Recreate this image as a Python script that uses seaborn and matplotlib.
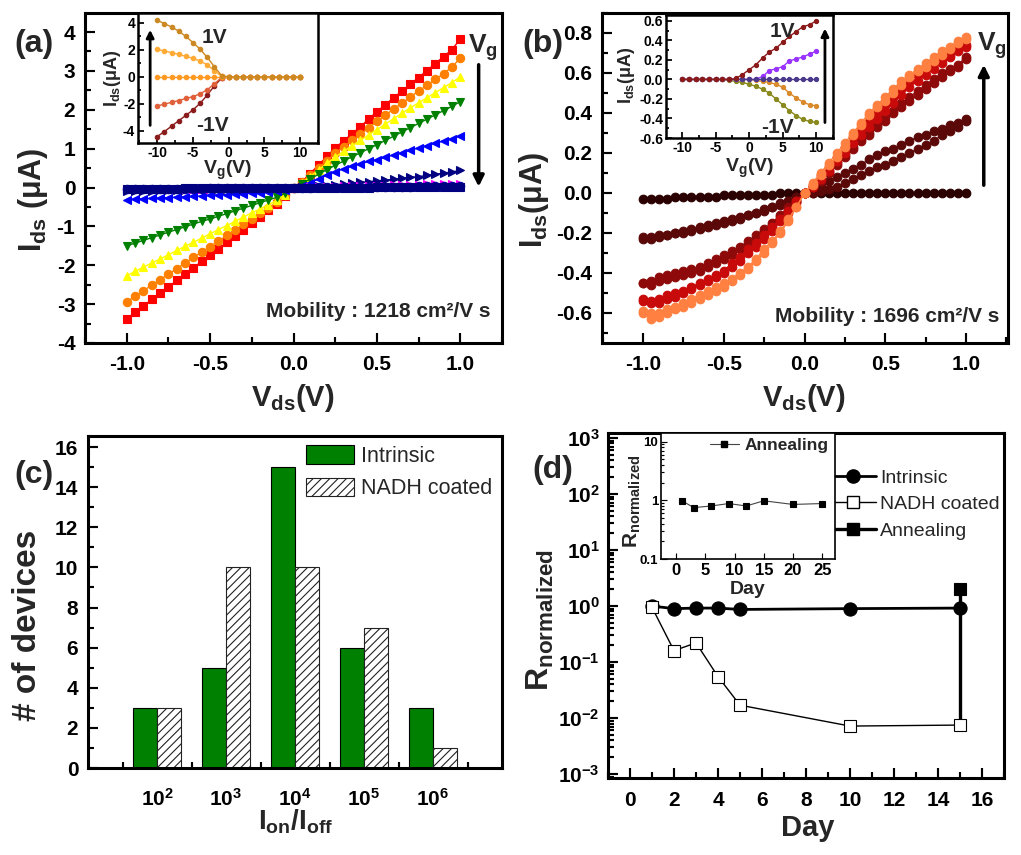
import matplotlib
matplotlib.use('Agg')
import matplotlib.pyplot as plt
import seaborn as sns
import pandas as pd
from matplotlib.ticker import MultipleLocator, FixedLocator, NullFormatter, FormatStrFormatter, LogLocator
from matplotlib.lines import Line2D
from matplotlib.patches import Patch

# ---------------- data ----------------
vds = [-1.0, -0.95, -0.9, -0.85, -0.8, -0.75, -0.7, -0.65, -0.6, -0.55, -0.5, -0.45, -0.4, -0.35,
       -0.3, -0.25, -0.2, -0.15, -0.1, -0.05, 0.0, 0.05, 0.1, 0.15, 0.2, 0.25, 0.3, 0.35, 0.4, 0.45,
       0.5, 0.55, 0.6, 0.65, 0.7, 0.75, 0.8, 0.85, 0.9, 0.95, 1.0]

# panel (a) : Ids (uA) vs Vds for several Vg
a_red = [-3.38, -3.21, -3.05, -2.88, -2.72, -2.56, -2.39, -2.23, -2.06, -1.90, -1.74, -1.57, -1.41, -1.25,
         -1.08, -0.92, -0.76, -0.59, -0.42, -0.22, 0.0, 0.15, 0.36, 0.58, 0.80, 1.02, 1.20, 1.38, 1.56, 1.76,
         1.95, 2.13, 2.31, 2.48, 2.66, 2.83, 3.01, 3.19, 3.37, 3.55, 3.82]
a_orange = [-2.94, -2.80, -2.66, -2.51, -2.37, -2.23, -2.09, -1.94, -1.80, -1.66, -1.52, -1.38, -1.23, -1.09,
            -0.95, -0.81, -0.66, -0.52, -0.38, -0.20, 0.0, 0.13, 0.31, 0.50, 0.69, 0.88, 1.05, 1.21, 1.37, 1.53,
            1.70, 1.86, 2.02, 2.17, 2.33, 2.48, 2.63, 2.78, 2.93, 3.10, 3.33]
a_yellow = [-2.27, -2.16, -2.05, -1.94, -1.84, -1.73, -1.62, -1.51, -1.41, -1.30, -1.19, -1.08, -0.98, -0.87,
            -0.76, -0.65, -0.55, -0.44, -0.33, -0.18, 0.0, 0.12, 0.28, 0.45, 0.62, 0.78, 0.93, 1.07, 1.21, 1.35,
            1.49, 1.63, 1.77, 1.91, 2.05, 2.18, 2.31, 2.44, 2.57, 2.70, 2.85]
a_green = [-1.50, -1.43, -1.36, -1.29, -1.22, -1.15, -1.08, -1.01, -0.94, -0.87, -0.81, -0.74, -0.67, -0.60,
           -0.53, -0.46, -0.39, -0.32, -0.25, -0.14, 0.0, 0.10, 0.22, 0.34, 0.46, 0.57, 0.68, 0.79, 0.89, 1.00,
           1.10, 1.21, 1.32, 1.43, 1.54, 1.65, 1.76, 1.87, 1.98, 2.09, 2.21]
a_blue = [-0.31, -0.30, -0.29, -0.28, -0.27, -0.26, -0.25, -0.24, -0.23, -0.22, -0.20, -0.19, -0.18, -0.17,
          -0.16, -0.14, -0.13, -0.11, -0.09, -0.06, 0.0, 0.04, 0.12, 0.22, 0.32, 0.41, 0.48, 0.55, 0.61, 0.67,
          0.72, 0.78, 0.84, 0.90, 0.96, 1.02, 1.08, 1.14, 1.20, 1.26, 1.33]
a_navy = [-0.09, -0.09, -0.08, -0.08, -0.07, -0.07, -0.06, -0.06, -0.05, -0.05, -0.05, -0.04, -0.04, -0.03,
          -0.03, -0.02, -0.02, -0.01, -0.01, -0.01, 0.0, 0.01, 0.02, 0.03, 0.05, 0.07, 0.09, 0.11, 0.13, 0.15,
          0.17, 0.19, 0.21, 0.24, 0.26, 0.28, 0.31, 0.34, 0.37, 0.40, 0.44]
a_magenta = [-0.05, -0.05, -0.05, -0.04, -0.04, -0.04, -0.04, -0.03, -0.03, -0.03, -0.03, -0.02, -0.02, -0.02,
             -0.02, -0.01, -0.01, -0.01, -0.01, 0.0, 0.0, 0.0, 0.01, 0.01, 0.02, 0.02, 0.03, 0.03, 0.04, 0.04,
             0.05, 0.05, 0.06, 0.06, 0.07, 0.07, 0.08, 0.08, 0.09, 0.09, 0.10]
a_navy_sq = [-0.03, -0.03, -0.03, -0.03, -0.03, -0.03, -0.03, -0.02, -0.02, -0.02, -0.02, -0.02, -0.02, -0.02,
             -0.02, -0.01, -0.01, -0.01, -0.01, 0.0, 0.0, 0.0, 0.0, 0.0, 0.0, 0.0, 0.0, 0.0, 0.0, 0.0,
             0.01, 0.01, 0.01, 0.01, 0.01, 0.01, 0.01, 0.01, 0.02, 0.02, 0.02]
a_dblue = [-0.04, -0.04, -0.04, -0.04, -0.03, -0.03, -0.03, -0.03, -0.03, -0.03, -0.02, -0.02, -0.02, -0.02,
           -0.02, -0.01, -0.01, -0.01, -0.01, 0.0, 0.0, 0.0, 0.0, 0.01, 0.01, 0.01, 0.01, 0.01, 0.01, 0.02,
           0.02, 0.02, 0.02, 0.02, 0.02, 0.03, 0.03, 0.03, 0.03, 0.03, 0.03]

# inset (a): Ids vs Vg for Vds = 1, 0.5, 0, -0.5, -1 V
vg = [-10, -9, -8, -7, -6, -5, -4, -3, -2, -1, 0, 1, 2, 3, 4, 5, 6, 7, 8, 9, 10]
ia_p1 = [4.2, 3.95, 3.7, 3.4, 3.0, 2.55, 2.05, 1.45, 0.75, 0.1, 0, 0, 0, 0, 0, 0, 0, 0, 0, 0, 0]
ia_p05 = [2.05, 1.92, 1.8, 1.67, 1.53, 1.38, 1.18, 0.9, 0.45, 0.05, 0, 0, 0, 0, 0, 0, 0, 0, 0, 0, 0]
ia_0 = [0, 0, 0, 0, 0, 0, 0, 0, 0, 0, 0, 0, 0, 0, 0, 0, 0, 0, 0, 0, 0]
ia_m05 = [-2.15, -2.02, -1.88, -1.75, -1.6, -1.46, -1.25, -0.95, -0.5, -0.05, 0, 0, 0, 0, 0, 0, 0, 0, 0, 0, 0]
ia_m1 = [-4.42, -4.05, -3.65, -3.25, -2.85, -2.45, -1.95, -1.35, -0.65, -0.1, 0, 0, 0, 0, 0, 0, 0, 0, 0, 0, 0]

# panel (b): forward / reverse sweeps
b_dark = [-0.03, -0.03, -0.03, -0.03, -0.02, -0.02, -0.02, -0.02, -0.02, -0.02, -0.01, -0.01, -0.01, -0.01,
          -0.01, -0.01, -0.01, 0.0, 0.0, 0.0, 0.0, 0.0, 0.0, 0.0, 0.0, 0.0, 0.0, 0.0, 0.0, 0.0,
          0.0, 0.0, 0.0, 0.0, 0.0, 0.0, 0.0, 0.0, 0.0, 0.0, 0.0]
b_maroon_f = [-0.22, -0.22, -0.21, -0.21, -0.20, -0.19, -0.18, -0.17, -0.16, -0.15, -0.14, -0.13, -0.12, -0.11,
              -0.10, -0.08, -0.07, -0.05, -0.04, -0.02, 0.0, 0.02, 0.04, 0.06, 0.08, 0.10, 0.12, 0.14, 0.17, 0.19,
              0.21, 0.22, 0.24, 0.26, 0.28, 0.29, 0.31, 0.32, 0.34, 0.35, 0.37]
b_maroon_r = [-0.23, -0.23, -0.22, -0.21, -0.20, -0.20, -0.19, -0.18, -0.17, -0.16, -0.15, -0.14, -0.13, -0.11,
              -0.10, -0.09, -0.07, -0.06, -0.04, -0.02, 0.0, 0.00, 0.01, 0.02, 0.03, 0.05, 0.07, 0.09, 0.11, 0.13,
              0.14, 0.16, 0.18, 0.20, 0.22, 0.24, 0.26, 0.29, 0.31, 0.33, 0.36]
b_dred_f = [-0.45, -0.46, -0.44, -0.43, -0.42, -0.41, -0.40, -0.39, -0.37, -0.35, -0.33, -0.31, -0.28, -0.26,
            -0.23, -0.19, -0.16, -0.12, -0.08, -0.04, 0.0, 0.03, 0.07, 0.11, 0.15, 0.19, 0.23, 0.27, 0.30, 0.34,
            0.38, 0.41, 0.45, 0.48, 0.51, 0.54, 0.57, 0.60, 0.62, 0.64, 0.68]
b_dred_r = [-0.45, -0.44, -0.42, -0.41, -0.40, -0.39, -0.38, -0.37, -0.35, -0.33, -0.31, -0.29, -0.27, -0.24,
            -0.21, -0.18, -0.15, -0.11, -0.07, -0.04, 0.0, 0.03, 0.06, 0.10, 0.14, 0.18, 0.22, 0.26, 0.29, 0.33,
            0.36, 0.40, 0.43, 0.46, 0.49, 0.52, 0.55, 0.58, 0.61, 0.63, 0.67]
b_red_f = [-0.53, -0.54, -0.53, -0.51, -0.50, -0.49, -0.47, -0.45, -0.43, -0.41, -0.39, -0.35, -0.32, -0.28,
           -0.25, -0.21, -0.17, -0.13, -0.09, -0.04, 0.0, 0.04, 0.09, 0.13, 0.18, 0.23, 0.28, 0.32, 0.36, 0.40,
           0.44, 0.48, 0.52, 0.56, 0.59, 0.62, 0.65, 0.67, 0.69, 0.72, 0.74]
b_red_r = [-0.54, -0.55, -0.55, -0.53, -0.52, -0.50, -0.48, -0.46, -0.44, -0.42, -0.40, -0.37, -0.34, -0.30,
           -0.27, -0.23, -0.19, -0.14, -0.10, -0.05, 0.0, 0.03, 0.07, 0.11, 0.16, 0.20, 0.25, 0.29, 0.33, 0.37,
           0.41, 0.45, 0.49, 0.53, 0.56, 0.59, 0.62, 0.65, 0.68, 0.71, 0.73]
b_or_f = [-0.59, -0.60, -0.60, -0.58, -0.57, -0.55, -0.53, -0.51, -0.49, -0.47, -0.45, -0.43, -0.40, -0.37,
          -0.33, -0.28, -0.24, -0.19, -0.13, -0.07, 0.0, 0.04, 0.09, 0.14, 0.18, 0.23, 0.29, 0.34, 0.39, 0.43,
          0.46, 0.50, 0.54, 0.58, 0.61, 0.63, 0.66, 0.69, 0.72, 0.75, 0.77]
b_or_r = [-0.60, -0.63, -0.62, -0.60, -0.58, -0.57, -0.55, -0.53, -0.51, -0.49, -0.47, -0.44, -0.41, -0.38,
          -0.34, -0.30, -0.25, -0.20, -0.14, -0.07, 0.0, 0.05, 0.10, 0.15, 0.20, 0.25, 0.30, 0.35, 0.40, 0.44,
          0.48, 0.52, 0.56, 0.59, 0.62, 0.65, 0.68, 0.71, 0.73, 0.76, 0.78]

# inset (b)
ib_p1 = [0, 0, 0, 0, 0, 0, 0, 0, 0.01, 0.05, 0.10, 0.15, 0.22, 0.28, 0.32, 0.38, 0.44, 0.49, 0.54, 0.56, 0.60]
ib_p05 = [0, 0, 0, 0, 0, 0, 0, 0, 0, 0, 0, 0, 0.03, 0.09, 0.11, 0.13, 0.19, 0.21, 0.23, 0.26, 0.29]
ib_0 = [0, 0, 0, 0, 0, 0, 0, 0, 0, 0, 0, 0, 0, 0, 0, 0, 0, 0, 0, 0, 0]
ib_m05 = [0, 0, 0, 0, 0, 0, 0, 0, 0, 0, 0, -0.01, -0.02, -0.03, -0.05, -0.08, -0.14, -0.19, -0.23, -0.26, -0.27]
ib_m1 = [0, 0, 0, 0, 0, 0, 0, -0.01, -0.02, -0.03, -0.05, -0.07, -0.10, -0.14, -0.20, -0.26, -0.32, -0.37,
         -0.41, -0.43, -0.44]

# panel (c)
ratio_cats = ['1e2', '1e3', '1e4', '1e5', '1e6']
ratio_labels = [r'$\mathbf{10^{2}}$', r'$\mathbf{10^{3}}$', r'$\mathbf{10^{4}}$',
                r'$\mathbf{10^{5}}$', r'$\mathbf{10^{6}}$']
count_intrinsic = [3, 5, 15, 6, 3]
count_nadh = [3, 10, 10, 7, 1]

# panel (d)
days = [1, 2, 3, 4, 5, 10, 15]
r_intrinsic = [1.0, 0.9, 0.92, 0.92, 0.87, 0.9, 0.92]
r_nadh = [0.95, 0.16, 0.22, 0.055, 0.017, 0.0072, 0.0075]
anneal_days = [15, 15]
r_anneal = [0.0075, 2.0]
inset_days = [1, 3, 6, 9, 12, 15, 20, 25]
inset_anneal = [0.98, 0.75, 0.80, 0.88, 0.80, 0.98, 0.85, 0.88]

# ---------------- style ----------------
sns.set_style('ticks')
rc = plt.rcParams
rc['font.family'] = ['Liberation Sans', 'DejaVu Sans']
rc['font.weight'] = 'bold'
rc['axes.unicode_minus'] = False
rc['mathtext.fontset'] = 'custom'
rc['mathtext.rm'] = 'Liberation Sans:bold'
rc['mathtext.it'] = 'Liberation Sans:bold'
rc['mathtext.bf'] = 'Liberation Sans:bold'
rc['mathtext.sf'] = 'Liberation Sans:bold'
rc['hatch.linewidth'] = 0.8

W, H = 1021, 855
fig = plt.figure(figsize=(W / 100, H / 100), dpi=100)


def rect(l, t, r, b):
    return [l / W, 1 - b / H, (r - l) / W, (b - t) / H]


def fp(px, py):
    return px / W, 1 - py / H


def style(ax, lw=2.2, lab=15, maj=7, mnr=4, xpad=9, ypad=7):
    for s in ax.spines.values():
        s.set_linewidth(lw)
        s.set_color('black')
    ax.tick_params(which='both', direction='in', top=False, right=False, width=max(lw * 0.7, 0.8),
                   colors='black')
    ax.tick_params(which='major', length=maj, labelsize=lab)
    ax.tick_params(which='minor', length=mnr)
    ax.tick_params(axis='x', which='major', pad=xpad)
    ax.tick_params(axis='y', which='major', pad=ypad)
    ax.set_xlabel('')
    ax.set_ylabel('')


def sline(ax, x, y, color, marker, ms, lw=1.0, mfc=None, mec=None, zorder=2, **kw):
    sns.lineplot(x=x, y=y, ax=ax, color=color, marker=marker, markersize=ms, linewidth=lw,
                 markerfacecolor=mfc if mfc else color, markeredgecolor=mec if mec else color,
                 markeredgewidth=0.8, estimator=None, sort=False, legend=False, zorder=zorder, **kw)


def label(px, py, s, size, rot=0, **kw):
    x, y = fp(px, py)
    fig.text(x, y, s, fontsize=size, fontweight='bold', rotation=rot, ha='center', va='center', **kw)


# ---------------- panel (a) ----------------
axA = fig.add_axes(rect(85, 13, 502, 343))
for yv, col, mk in [(a_red, '#FF0000', 's'), (a_orange, '#FF8000', 'o'), (a_yellow, '#FFFF00', '^'),
                    (a_green, '#008000', 'v'), (a_blue, '#0000FF', '<'), (a_navy, '#000080', '>'),
                    (a_magenta, '#FF00FF', '>'), (a_dblue, '#0000A0', 'o'), (a_navy_sq, '#000080', 's')]:
    sline(axA, vds, yv, col, mk, 6)
axA.set_xlim(-1.25, 1.25)
axA.set_ylim(-4, 4.49)
axA.xaxis.set_major_locator(MultipleLocator(0.5))
axA.xaxis.set_minor_locator(MultipleLocator(0.25))
axA.xaxis.set_major_formatter(FormatStrFormatter('%.1f'))
axA.yaxis.set_major_locator(MultipleLocator(1))
axA.yaxis.set_minor_locator(MultipleLocator(0.5))
style(axA)
axA.text(-0.162, -3.18, 'Mobility : 1218 cm²/V s', fontsize=15, fontweight='bold', ha='left', va='center')
axA.annotate('', xy=(1.11, -0.05), xytext=(1.11, 3.23),
             arrowprops=dict(arrowstyle='-|>', color='black', lw=2.5, mutation_scale=16),
             annotation_clip=False)
axA.text(1.138, 3.59, r'$\mathbf{V_{g}}$', fontsize=19, ha='center', va='center', clip_on=False)

axAi = fig.add_axes(rect(138, 13, 318, 143))
for yv, col in [(ia_m1, '#8B1A1A'), (ia_m05, '#E0603A'), (ia_0, '#FF9922'), (ia_p05, '#FFAA33'),
                (ia_p1, '#CC8822')]:
    sline(axAi, vg, yv, col, 'o', 3.2, lw=1.0)
axAi.set_xlim(-12.7, 12.5)
axAi.set_ylim(-4.9, 4.74)
axAi.xaxis.set_major_locator(MultipleLocator(5))
axAi.xaxis.set_minor_locator(MultipleLocator(2.5))
axAi.yaxis.set_major_locator(MultipleLocator(2))
axAi.yaxis.set_minor_locator(MultipleLocator(1))
style(axAi, lw=1.8, lab=10, maj=4, mnr=2, xpad=2, ypad=2)
axAi.annotate('', xy=(-11.0, 3.7), xytext=(-11.0, -3.8),
              arrowprops=dict(arrowstyle='-|>', color='black', lw=2, mutation_scale=11))
axAi.text(-2.03, 2.96, '1V', fontsize=15, fontweight='bold', ha='center', va='center')
axAi.text(-2.3, -3.63, '-1V', fontsize=15, fontweight='bold', ha='center', va='center')

# ---------------- panel (b) ----------------
axB = fig.add_axes(rect(602, 13, 1008, 343))
for yv, col in [(b_dark, '#2B0000'), (b_maroon_f, '#5A0808'), (b_maroon_r, '#5A0808'),
                (b_dred_f, '#8E0A0A'), (b_dred_r, '#8E0A0A'), (b_red_f, '#C80A0A'), (b_red_r, '#C80A0A'),
                (b_or_f, '#FF8040'), (b_or_r, '#FF8040')]:
    sline(axB, vds, yv, col, 'o', 6.2, lw=1.0)
axB.set_xlim(-1.254, 1.26)
axB.set_ylim(-0.75, 0.9)
axB.xaxis.set_major_locator(MultipleLocator(0.5))
axB.xaxis.set_minor_locator(MultipleLocator(0.25))
axB.xaxis.set_major_formatter(FormatStrFormatter('%.1f'))
axB.yaxis.set_major_locator(MultipleLocator(0.2))
axB.yaxis.set_minor_locator(MultipleLocator(0.1))
axB.yaxis.set_major_formatter(FormatStrFormatter('%.1f'))
style(axB)
axB.text(-0.183, -0.615, 'Mobility : 1696 cm²/V s', fontsize=15, fontweight='bold', ha='left', va='center')
axB.annotate('', xy=(1.11, 0.655), xytext=(1.11, 0.025),
             arrowprops=dict(arrowstyle='-|>', color='black', lw=2.5, mutation_scale=16),
             annotation_clip=False)
axB.text(1.161, 0.735, r'$\mathbf{V_{g}}$', fontsize=19, ha='center', va='center', clip_on=False)

axBi = fig.add_axes(rect(666, 15, 833, 138))
for yv, col in [(ib_m1, '#8A8A1E'), (ib_m05, '#D98B2B'), (ib_p05, '#9933FF'), (ib_0, '#4B3A8C'),
                (ib_p1, '#8B1A1A')]:
    sline(axBi, vg, yv, col, 'o', 3.0, lw=1.0)
axBi.set_xlim(-12.4, 12.5)
axBi.set_ylim(-0.6, 0.66)
axBi.xaxis.set_major_locator(MultipleLocator(5))
axBi.xaxis.set_minor_locator(MultipleLocator(2.5))
axBi.yaxis.set_major_locator(MultipleLocator(0.2))
axBi.yaxis.set_minor_locator(MultipleLocator(0.1))
axBi.yaxis.set_major_formatter(FormatStrFormatter('%.1f'))
style(axBi, lw=1.8, lab=10, maj=4, mnr=2, xpad=2, ypad=2)
axBi.annotate('', xy=(11.3, 0.55), xytext=(11.3, -0.47),
              arrowprops=dict(arrowstyle='-|>', color='black', lw=2, mutation_scale=11))
axBi.text(4.93, 0.49, '1V', fontsize=15, fontweight='bold', ha='center', va='center')
axBi.text(4.18, -0.49, '-1V', fontsize=15, fontweight='bold', ha='center', va='center')

# ---------------- panel (c) ----------------
axC = fig.add_axes(rect(88, 436, 502, 768))
df_c = pd.DataFrame({'ratio': ratio_cats + ratio_cats,
                     'count': count_intrinsic + count_nadh,
                     'type': ['Intrinsic'] * len(ratio_cats) + ['NADH coated'] * len(ratio_cats)})
sns.barplot(data=df_c, x='ratio', y='count', hue='type', palette=['#008000', 'white'], width=0.7,
            edgecolor='black', linewidth=0.8, saturation=1, errorbar=None, legend=False, ax=axC)
for bar in axC.containers[1]:
    bar.set_hatch('////')
    bar.set_edgecolor('#222222')
axC.set_xlim(-1, 5)
axC.set_ylim(0, 16.55)
axC.xaxis.set_major_locator(FixedLocator([0, 1, 2, 3, 4]))
axC.set_xticklabels(ratio_labels)
axC.xaxis.set_minor_locator(FixedLocator([-0.5, 0.5, 1.5, 2.5, 3.5, 4.5]))
axC.yaxis.set_major_locator(MultipleLocator(2))
axC.yaxis.set_minor_locator(MultipleLocator(1))
style(axC, xpad=14)
axC.legend(handles=[Patch(facecolor='#008000', edgecolor='black', linewidth=0.8),
                    Patch(facecolor='white', edgecolor='#222222', hatch='////', linewidth=0.8)],
           labels=['Intrinsic', 'NADH coated'], loc='upper left', bbox_to_anchor=(0.527, 0.972),
           frameon=False, handlelength=2.2, handleheight=0.95, handletextpad=0.35, labelspacing=0.5,
           borderpad=0, borderaxespad=0, prop={'weight': 'normal', 'size': 15.5})

# ---------------- panel (d) ----------------
axD = fig.add_axes(rect(608, 433, 1004, 778))
axD.set_yscale('log')
sline(axD, anneal_days, r_anneal, 'black', 's', 8, lw=2.4, markevery=[1], zorder=2)
sline(axD, days, r_intrinsic, 'black', 'o', 9.5, lw=2.0, zorder=3)
sline(axD, days, r_nadh, 'black', 's', 8.5, lw=1.0, mfc='white', zorder=4)
axD.set_xlim(-1, 17)
axD.set_ylim(10 ** -3.07, 10 ** 3.09)
axD.xaxis.set_major_locator(MultipleLocator(2))
axD.xaxis.set_minor_locator(MultipleLocator(1))
axD.yaxis.set_major_locator(FixedLocator([1e-3, 1e-2, 1e-1, 1, 10, 100, 1000]))
axD.set_yticklabels([r'$\mathbf{10^{-3}}$', r'$\mathbf{10^{-2}}$', r'$\mathbf{10^{-1}}$', r'$\mathbf{10^{0}}$',
                     r'$\mathbf{10^{1}}$', r'$\mathbf{10^{2}}$', r'$\mathbf{10^{3}}$'])
axD.yaxis.set_minor_locator(LogLocator(base=10, subs=[2, 3, 4, 5, 6, 7, 8, 9], numticks=20))
axD.yaxis.set_minor_formatter(NullFormatter())
style(axD, ypad=6)
axD.legend(handles=[Line2D([], [], color='black', lw=2.0, marker='o', ms=9.5),
                    Line2D([], [], color='black', lw=1.0, marker='s', ms=8.5, mfc='white'),
                    Line2D([], [], color='black', lw=2.4, marker='s', ms=8)],
           labels=['Intrinsic', 'NADH coated', 'Annealing'], loc='upper left', bbox_to_anchor=(0.56, 0.895),
           frameon=False, handlelength=2.4, handletextpad=0.2, labelspacing=0.45, borderpad=0,
           borderaxespad=0, prop={'weight': 'normal', 'size': 14})

axDi = fig.add_axes(rect(661, 433, 835, 559))
axDi.set_yscale('log')
sline(axDi, inset_days, inset_anneal, '#444444', 's', 5, lw=0.8, mfc='black', mec='black')
axDi.set_xlim(-2.6, 27.2)
axDi.set_ylim(0.1, 14)
axDi.xaxis.set_major_locator(MultipleLocator(5))
axDi.yaxis.set_major_locator(FixedLocator([0.1, 1, 10]))
axDi.set_yticklabels(['0.1', '1', '10'])
axDi.yaxis.set_minor_locator(LogLocator(base=10, subs=[2, 3, 4, 5, 6, 7, 8, 9], numticks=20))
axDi.yaxis.set_minor_formatter(NullFormatter())
style(axDi, lw=1.2, lab=12, maj=4, mnr=2, xpad=3, ypad=2)
axDi.tick_params(axis='y', labelsize=9.5)
axDi.legend(handles=[Line2D([], [], color='#444444', lw=0.8, marker='s', ms=5, mfc='black', mec='black')],
            labels=['Annealing'], loc='center left', bbox_to_anchor=(0.28, 0.9), frameon=False,
            handlelength=1.7, handletextpad=0.3, borderpad=0, borderaxespad=0,
            prop={'weight': 'bold', 'size': 12.5})

# ---------------- labels ----------------
label(33, 200, r'$\mathbf{I_{ds}}$ (μA)', 22, rot=90)
label(293, 398, r'$\mathbf{V_{ds}}$(V)', 21)
label(534, 200, r'$\mathbf{I_{ds}}$(μA)', 22, rot=90)
label(804, 398, r'$\mathbf{V_{ds}}$(V)', 21)
label(28, 625, '# of devices', 24, rot=90)
label(296, 822, r'$\mathbf{I_{on}/I_{off}}$', 20)
label(540, 620, r'$\mathbf{R_{normalized}}$', 23, rot=90)
label(808, 828, 'Day', 21)
label(112, 78, r'$\mathbf{I_{ds}}$(μA)', 13, rot=90)
label(228, 170, r'$\mathbf{V_{g}}$(V)', 14)
label(626, 75, r'$\mathbf{I_{ds}}$(μA)', 13, rot=90)
label(750, 168, r'$\mathbf{V_{g}}$(V)', 14)
label(632, 501, r'$\mathbf{R_{normalized}}$', 15, rot=90)
label(748, 589, 'Day', 14)
label(34, 44, '(a)', 23)
label(543, 44, '(b)', 23)
label(34, 475, '(c)', 23)
label(553, 470, '(d)', 23)

fig.savefig('out.png', dpi=100)
